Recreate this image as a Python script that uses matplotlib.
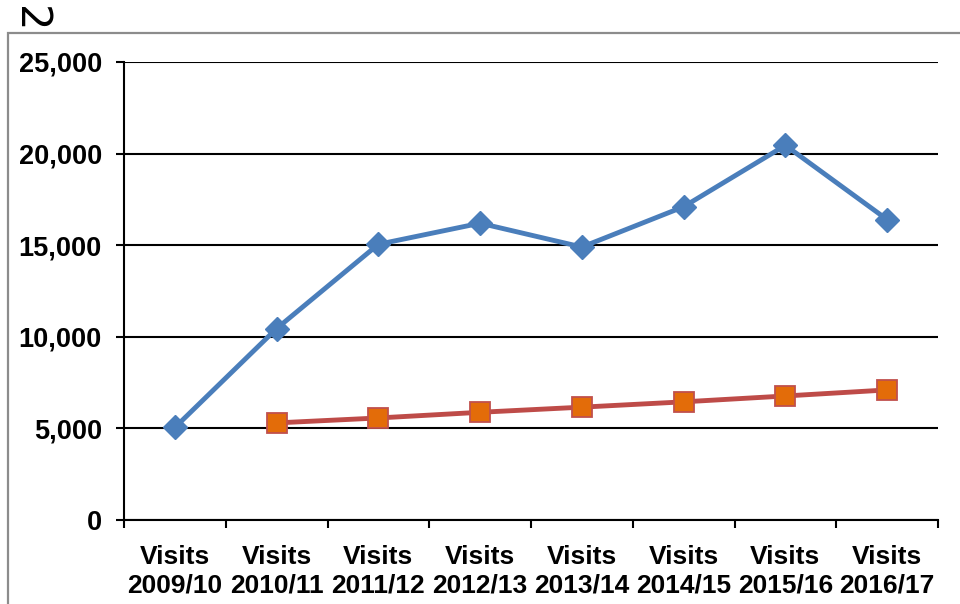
import matplotlib.pyplot as plt
from matplotlib.patches import Rectangle

# visits per year
years = ['2009/10', '2010/11', '2011/12', '2012/13', '2013/14', '2014/15', '2015/16', '2016/17']
visits = [5050, 10450, 15050, 16200, 14900, 17100, 20450, 16400]
trend_years = years[1:]
trend = [5300, 5570, 5880, 6160, 6450, 6770, 7100]

plt.rcParams['font.family'] = ['Liberation Sans', 'DejaVu Sans']

fig = plt.figure(figsize=(9.6, 6.04), dpi=100)
ax = fig.add_axes([124 / 960, 1 - 520 / 604, (938 - 124) / 960, (520 - 62) / 604])

# grey frame around the chart area
fig.patches.append(Rectangle((8 / 960, -0.2), 1.2, 1.2 - 33 / 604,
                             transform=fig.transFigure, fill=False,
                             edgecolor='#8c8c8c', linewidth=1.6))
fig.text(30 / 960, 1 - 19 / 604, '2', rotation=-90, fontsize=30,
         ha='center', va='center', family='DejaVu Sans')

x_all = list(range(len(years)))
x_trend = [years.index(y) for y in trend_years]

ax.plot(x_all, visits, color='#4a7ebb', linewidth=3.5, marker='D',
        markersize=12, markerfacecolor='#4a7ebb', markeredgecolor='#4a7ebb',
        zorder=3)
ax.plot(x_trend, trend, color='#be4b48', linewidth=3.5, marker='s',
        markersize=14, markerfacecolor='#e36c09', markeredgecolor='#c0504d',
        markeredgewidth=1.3, zorder=3)

ax.set_xlim(-0.5, len(years) - 0.5)
ax.set_ylim(0, 25000)
ax.set_yticks(range(0, 25001, 5000))
ax.set_yticklabels([f'{v:,}' for v in range(0, 25001, 5000)],
                   fontsize=19.5, fontweight='bold')
ax.yaxis.grid(True, color='black', linewidth=1.5)
ax.set_axisbelow(True)

# category boundaries carry the ticks, labels sit at the centres
ax.set_xticks([i - 0.5 for i in range(len(years) + 1)])
ax.set_xticklabels([])
ax.set_xticks(x_all, minor=True)
ax.set_xticklabels(['Visits\n' + y for y in years], minor=True,
                   fontsize=19, fontweight='bold', linespacing=1.25)
ax.tick_params(axis='x', which='major', length=6, width=1.5, direction='out')
ax.tick_params(axis='x', which='minor', length=0, pad=18)
ax.tick_params(axis='y', length=6, width=1.5, pad=10)

for side in ['top', 'right']:
    ax.spines[side].set_visible(False)
for side in ['left', 'bottom']:
    ax.spines[side].set_linewidth(1.5)

fig.savefig('out.png', dpi=100)
